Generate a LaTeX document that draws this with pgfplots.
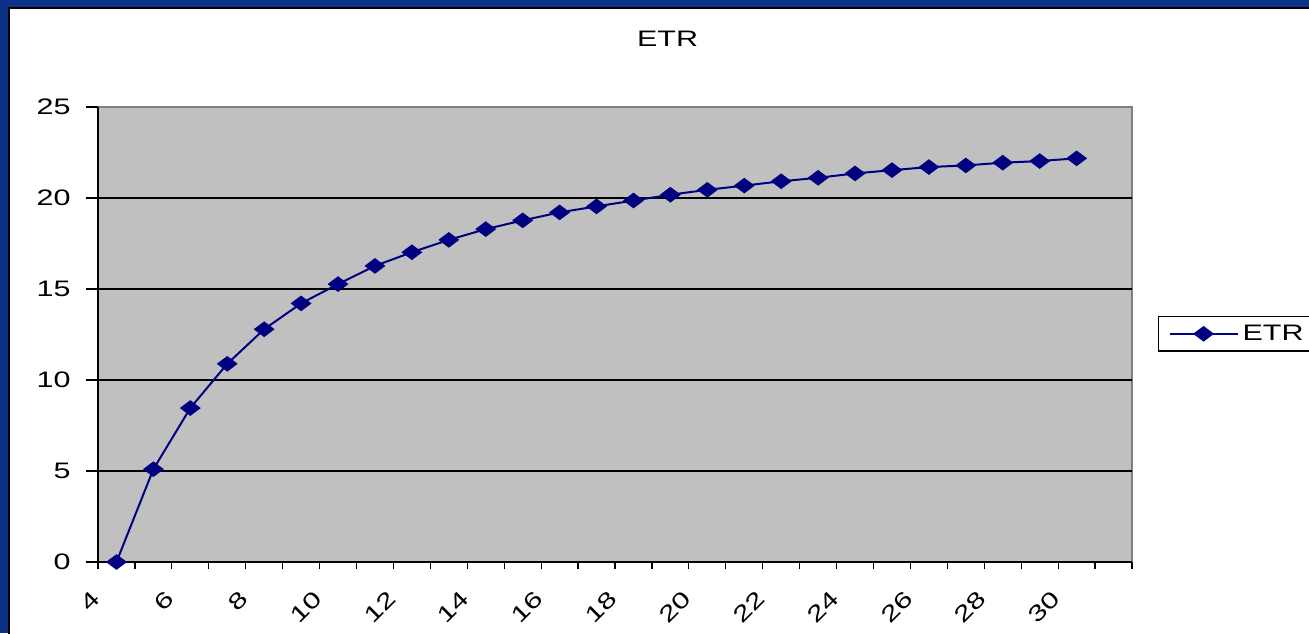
\documentclass[border=0pt]{standalone}
\usepackage{fontspec}
\setmainfont{Liberation Sans}
\newfontfamily\chartfam{Liberation Sans}[FakeStretch=1.36]
\usepackage{pgfplots}
\pgfplotsset{compat=1.18}
\definecolor{slideblue}{HTML}{0B3286}
\definecolor{plotgray}{HTML}{C0C0C0}
\definecolor{framegray}{HTML}{808080}
\definecolor{navy}{HTML}{000080}
\newcommand\chartfont{\chartfam\fontsize{11.2}{13}\selectfont}

\begin{document}
\begin{tikzpicture}
\useasboundingbox (0,0) rectangle (654.5pt,316.5pt);
% slide background and chart area
\fill[slideblue] (0,0) rectangle (654.5pt,316.5pt);
\filldraw[fill=white, draw=black, line width=1pt] (4.5pt,-5pt) rectangle (670pt,312.5pt);

\begin{axis}[
  at={(49pt,35.5pt)}, anchor=south west,
  scale only axis, width=517pt, height=227.5pt,
  xmin=3.5, xmax=31.5, ymin=0, ymax=25,
  clip=false,
  axis x line*=bottom, axis y line*=left,
  axis line style={black, line width=0.6pt},
  axis background/.style={fill=plotgray, draw=framegray, line width=0.8pt},
  xtick={4,6,...,30},
  minor xtick={3.5,4.5,...,31.5},
  ytick={0,5,10,15,20},
  extra y ticks={25},
  extra y tick style={grid=none},
  ymajorgrids,
  grid style={black, line width=0.6pt},
  tick align=outside,
  major tick length=6pt,
  minor tick length=3.7pt,
  major x tick style={draw=none},
  tick style={black, line width=0.6pt},
  /pgf/number format/assume math mode=true,
  xticklabel style={font=\chartfont, inner sep=0pt, xshift=-10pt, yshift=-10.5pt, rotate=45, anchor=east},
  yticklabel style={font=\chartfont, inner sep=0pt, anchor=east, xshift=-7.5pt},
  title={ETR},
  title style={at={(0.5508,1.1231)}, anchor=center, font=\chartfont, inner sep=0pt},
  legend style={at={(1.0251,0.5407)}, anchor=north west, draw=black, fill=white,
    line width=0.6pt, inner xsep=5pt, inner ysep=2pt, font=\chartfont},
  legend cell align=left,
  legend image code/.code={\draw[mark repeat=2, mark phase=2, #1] plot coordinates {(0pt,0pt) (17pt,0pt) (34pt,0pt)};},
]
\addplot[navy, line width=1pt, mark=diamond*, mark size=4.4pt, mark options={rotate=90, fill=navy, solid}] table {
x y
4 0
5 5.10
6 8.46
7 10.89
8 12.79
9 14.21
10 15.27
11 16.27
12 17.02
13 17.70
14 18.29
15 18.77
16 19.21
17 19.54
18 19.86
19 20.18
20 20.45
21 20.68
22 20.92
23 21.11
24 21.35
25 21.53
26 21.70
27 21.79
28 21.94
29 22.03
30 22.18
};
\legend{ETR}
\end{axis}
\end{tikzpicture}
\end{document}
